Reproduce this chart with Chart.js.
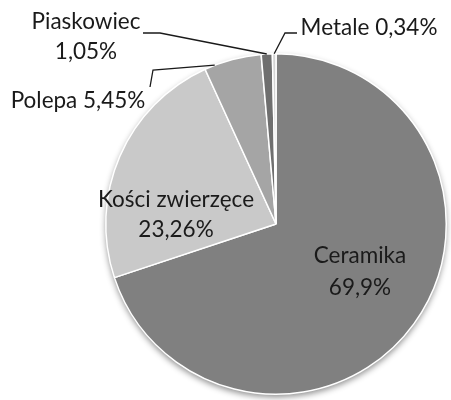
<!DOCTYPE html>
<html>
<head>
<meta charset="utf-8">
<script src="https://cdn.jsdelivr.net/npm/chart.js@4.4.1/dist/chart.umd.min.js"></script>
<style>
  html, body { margin: 0; padding: 0; background: #ffffff; }
  #wrap { width: 451px; height: 400px; position: relative; }
</style>
</head>
<body>
<div id="wrap"><canvas id="c" width="451" height="400"></canvas></div>
<script>
// Udział grup znalezisk (%)
const categories = ['Ceramika', 'Kości zwierzęce', 'Polepa', 'Piaskowiec', 'Metale'];
const shares = [69.9, 23.26, 5.45, 1.05, 0.34];
const shareLabels = ['69,9%', '23,26%', '5,45%', '1,05%', '0,34%'];
const sliceColors = ['#808080', '#c9c9c9', '#a5a5a5', '#6f6f6f', '#d4d4d4'];

// Label layout: text lines, anchor point, optional leader line
// (leader: point on the slice edge given as a fraction of the slice's arc,
//  then an elbow and an end point next to the text)
const labelLayout = [
  { lines: ['Ceramika', '69,9%'], x: 360, y: 256, lh: 32 },
  { lines: ['Kości zwierzęce', '23,26%'], x: 176, y: 200, lh: 30 },
  { lines: ['Polepa 5,45%'], x: 78, y: 101, lh: 30,
    leader: { frac: 0.18, elbow: [153, 70], end: [150, 87] } },
  { lines: ['Piaskowiec', '1,05%'], x: 86, y: 22, lh: 30,
    leader: { frac: 0.5, elbow: [160, 33], end: [143, 33] } },
  { lines: ['Metale 0,34%'], x: 369, y: 28, lh: 30,
    leader: { frac: 0.5, elbow: [285, 33], end: [297, 33] } }
];

const FONT = '22.5px Lato, "Open Sans", sans-serif';

// Soft shadow under the whole pie
const pieShadow = {
  id: 'pieShadow',
  beforeDatasetsDraw(chart) {
    const arc = chart.getDatasetMeta(0).data[0];
    if (!arc) return;
    const ctx = chart.ctx;
    ctx.save();
    ctx.beginPath();
    ctx.arc(arc.x, arc.y, arc.outerRadius, 0, Math.PI * 2);
    ctx.fillStyle = '#ffffff';
    ctx.shadowColor = 'rgba(0,0,0,0.45)';
    ctx.shadowBlur = 6;
    ctx.shadowOffsetY = 3;
    ctx.fill();
    ctx.restore();
  }
};

// Category labels with percentages and leader lines
const sliceLabels = {
  id: 'sliceLabels',
  afterDatasetsDraw(chart) {
    const ctx = chart.ctx;
    const arcs = chart.getDatasetMeta(0).data;
    ctx.save();
    ctx.font = FONT;
    ctx.fillStyle = '#1a1a1a';
    ctx.textAlign = 'center';
    ctx.textBaseline = 'middle';
    labelLayout.forEach((lab, i) => {
      const arc = arcs[i];
      if (lab.leader) {
        const a = arc.startAngle + (arc.endAngle - arc.startAngle) * lab.leader.frac;
        const sx = arc.x + Math.cos(a) * arc.outerRadius;
        const sy = arc.y + Math.sin(a) * arc.outerRadius;
        ctx.beginPath();
        ctx.moveTo(sx, sy);
        ctx.lineTo(lab.leader.elbow[0], lab.leader.elbow[1]);
        ctx.lineTo(lab.leader.end[0], lab.leader.end[1]);
        ctx.strokeStyle = '#1a1a1a';
        ctx.lineWidth = 1.3;
        ctx.stroke();
      }
      lab.lines.forEach((t, k) => {
        ctx.fillText(t, lab.x, lab.y + k * lab.lh);
      });
    });
    ctx.restore();
  }
};

new Chart(document.getElementById('c'), {
  type: 'pie',
  data: {
    labels: categories,
    datasets: [{
      data: shares,
      backgroundColor: sliceColors,
      borderColor: '#ffffff',
      borderWidth: 1.5
    }]
  },
  options: {
    responsive: false,
    animation: false,
    layout: { padding: { top: 53, bottom: 5, left: 105, right: 4 } },
    plugins: {
      legend: { display: false },
      tooltip: { enabled: false }
    }
  },
  plugins: [pieShadow, sliceLabels]
});
</script>
</body>
</html>
